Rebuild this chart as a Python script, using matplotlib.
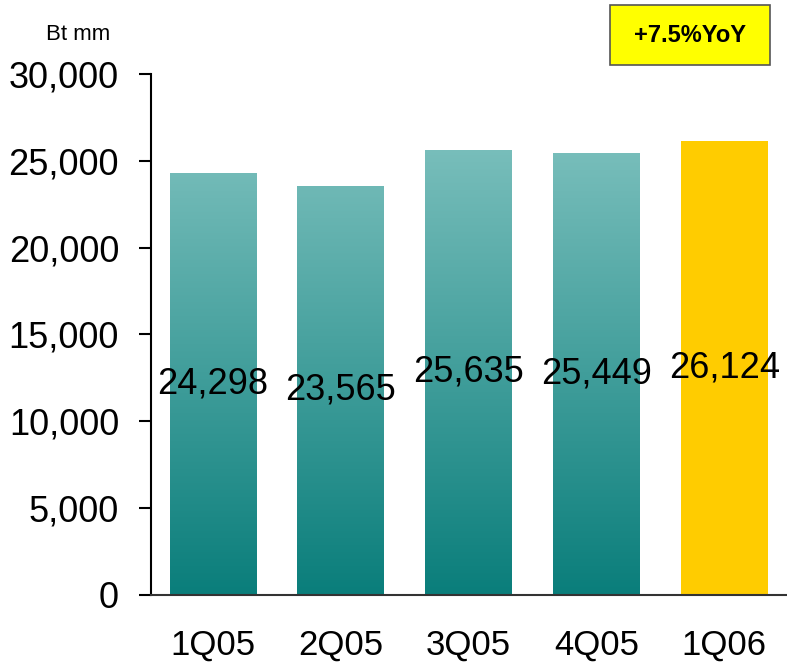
import numpy as np
import matplotlib
matplotlib.use('Agg')
import matplotlib.pyplot as plt
from matplotlib.colors import LinearSegmentedColormap
from matplotlib.patches import Rectangle

plt.rcParams['font.family'] = ['Liberation Sans', 'DejaVu Sans']

# Data
quarters = ['1Q05', '2Q05', '3Q05', '4Q05', '1Q06']
values = [24298, 23565, 25635, 25449, 26124]
yticks = [0, 5000, 10000, 15000, 20000, 25000, 30000]

TealTop = '#7ABFBC'
TealBottom = '#0A7E7B'
Highlight = '#FFCC00'

W, H = 787, 668
fig = plt.figure(figsize=(7.87, 6.68), dpi=100)
ax = fig.add_axes([151/W, (H-595)/H, (W-151)/W, (595-74)/H])

x = np.arange(len(quarters))
BarWidth = 0.68
grad = LinearSegmentedColormap.from_list('teal', [TealBottom, TealTop])
gradimg = np.linspace(0, 1, 256).reshape(-1, 1)

for i, v in enumerate(values):
    if i == len(values) - 1:
        ax.bar(x[i], v, width=BarWidth, color=Highlight, zorder=2)
    else:
        bar = ax.bar(x[i], v, width=BarWidth, color='none', zorder=2)[0]
        im = ax.imshow(gradimg, cmap=grad, origin='lower', aspect='auto',
                       extent=[x[i]-BarWidth/2, x[i]+BarWidth/2, 0, max(values)],
                       zorder=1, vmin=0, vmax=1)
        im.set_clip_path(bar)
    # value label in the middle of the bar
    ax.text(x[i], v/2, '{:,}'.format(v), ha='center', va='center', fontsize=26, zorder=3)

ax.set_xlim(-0.485, 4.49)
ax.set_ylim(0, 30000)
ax.set_yticks(yticks)
ax.set_yticklabels(['{:,}'.format(t) for t in yticks])
ax.set_xticks(x)
ax.set_xticklabels(quarters)
ax.tick_params(axis='y', direction='out', length=9, width=1.5, labelsize=26, pad=14)
ax.tick_params(axis='x', length=0, labelsize=25, pad=24)

for s in ['top', 'right']:
    ax.spines[s].set_visible(False)
ax.spines['left'].set_linewidth(1.5)
ax.spines['bottom'].set_linewidth(1.5)
ax.spines['bottom'].set_color('#333333')

# unit label
fig.text(78/W, 1-35/H, 'Bt mm', ha='center', va='center', fontsize=16)

# YoY box
fig.add_artist(Rectangle((610/W, 1-65/H), 160/W, 60/H, transform=fig.transFigure,
                         facecolor='#FFFF00', edgecolor='#555555', linewidth=1.2))
fig.text(690/W, 1-36/H, '+7.5%YoY', ha='center', va='center', fontsize=17, fontweight='bold')

plt.savefig('out.png', dpi=100)
plt.close()
